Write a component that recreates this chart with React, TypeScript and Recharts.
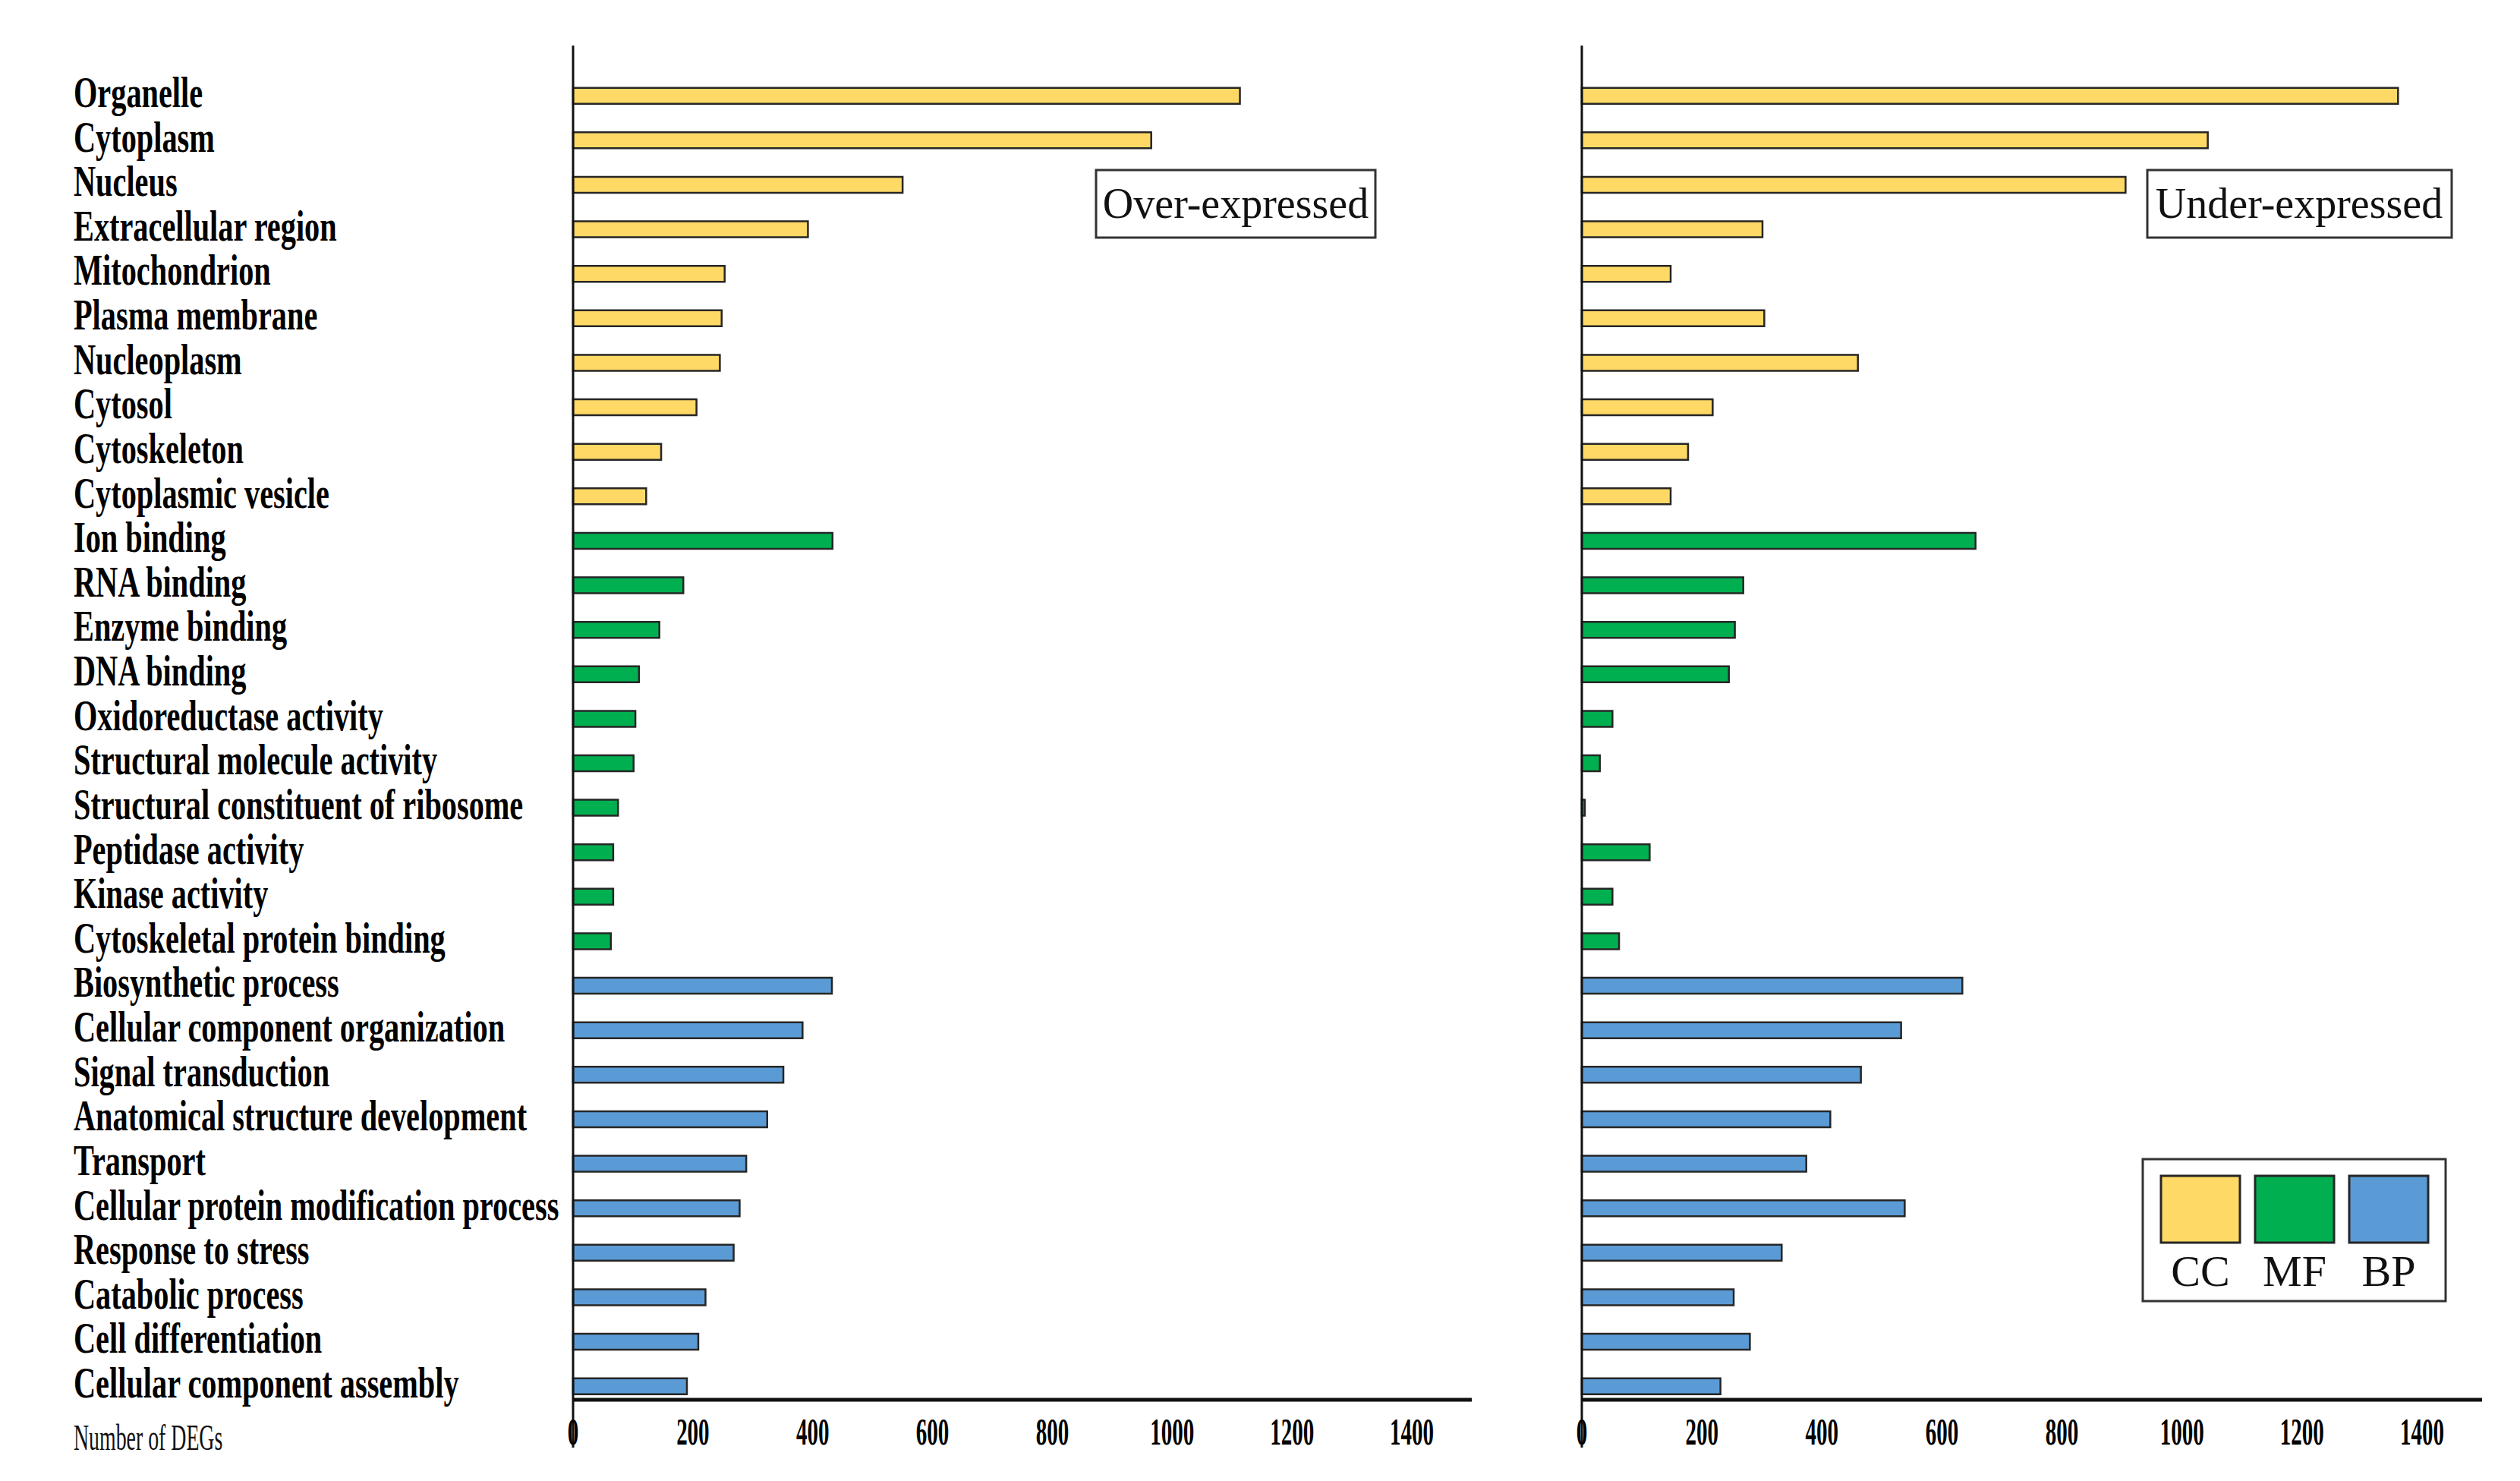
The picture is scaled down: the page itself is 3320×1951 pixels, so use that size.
import React from 'react';
import { BarChart, Bar, XAxis, YAxis, Cell } from 'recharts';

const categories = [
  'Organelle', 'Cytoplasm', 'Nucleus', 'Extracellular region', 'Mitochondrion',
  'Plasma membrane', 'Nucleoplasm', 'Cytosol', 'Cytoskeleton', 'Cytoplasmic vesicle',
  'Ion binding', 'RNA binding', 'Enzyme binding', 'DNA binding', 'Oxidoreductase activity',
  'Structural molecule activity', 'Structural constituent of ribosome', 'Peptidase activity',
  'Kinase activity', 'Cytoskeletal protein binding',
  'Biosynthetic process', 'Cellular component organization', 'Signal transduction',
  'Anatomical structure development', 'Transport', 'Cellular protein modification process',
  'Response to stress', 'Catabolic process', 'Cell differentiation', 'Cellular component assembly',
];

const groups = [
  'CC', 'CC', 'CC', 'CC', 'CC', 'CC', 'CC', 'CC', 'CC', 'CC',
  'MF', 'MF', 'MF', 'MF', 'MF', 'MF', 'MF', 'MF', 'MF', 'MF',
  'BP', 'BP', 'BP', 'BP', 'BP', 'BP', 'BP', 'BP', 'BP', 'BP',
];

const overExpressed = [
  1113, 965, 550, 392, 253, 248, 245, 206, 147, 122,
  433, 184, 144, 110, 104, 101, 75, 67, 67, 63,
  432, 383, 351, 324, 289, 278, 268, 221, 209, 190,
];

const underExpressed = [
  1360, 1043, 906, 301, 148, 304, 460, 218, 177, 148,
  656, 269, 255, 245, 51, 30, 5, 113, 51, 62,
  634, 532, 465, 414, 374, 538, 333, 253, 280, 231,
];

const xTicks = [0, 200, 400, 600, 800, 1000, 1200, 1400];
const legendItems = ['CC', 'MF', 'BP'];
const groupColors: Record<string, string> = { CC: '#FFD966', MF: '#00B050', BP: '#5B9BD5' };

const overData = categories.map((name, i) => ({ name, value: overExpressed[i], group: groups[i] }));
const underData = categories.map((name, i) => ({ name, value: underExpressed[i], group: groups[i] }));

const SERIF = "'Liberation Serif', 'Times New Roman', Times, serif";
const LABEL_SPAN = 658;
const Y_PADDING = { top: 36.7, bottom: -11.3 };

const CategoryTick = (props: any) => {
  const { x, y, payload } = props;
  return (
    <text
      x={0}
      y={0}
      transform={`translate(${x - LABEL_SPAN},${y + 15}) scale(0.72,1)`}
      fontFamily={SERIF}
      fontWeight="bold"
      fontSize={56}
      fill="#000"
      textAnchor="start"
    >
      {payload.value}
    </text>
  );
};

const ValueTick = (props: any) => {
  const { x, y, payload } = props;
  return (
    <g>
      {payload.value === 0 && (
        <line x1={x} x2={x} y1={y} y2={y + 63} stroke="#111" strokeWidth={3} />
      )}
      <text
        x={0}
        y={0}
        transform={`translate(${x},${y + 59}) scale(0.58,1)`}
        textAnchor="middle"
        fontFamily={SERIF}
        fontWeight="bold"
        fontSize={50}
        fill="#000"
      >
        {payload.value}
      </text>
    </g>
  );
};

const barStyle = { stroke: '#262626', strokeWidth: 2.5 };

function Panel({ data, showLabels, left, width, margin, yWidth }: any) {
  return (
    <div style={{ position: 'absolute', left, top: 0 }}>
      <BarChart width={width} height={1951} data={data} layout="vertical" margin={margin}>
        <XAxis
          type="number"
          domain={[0, 1500]}
          ticks={xTicks}
          interval={0}
          tickSize={0}
          tickMargin={0}
          tickLine={false}
          height={100}
          axisLine={{ stroke: '#111', strokeWidth: 5 }}
          tick={<ValueTick />}
        />
        <YAxis
          type="category"
          dataKey="name"
          width={yWidth}
          interval={0}
          tickSize={0}
          tickMargin={0}
          tickLine={false}
          padding={Y_PADDING}
          axisLine={{ stroke: '#111', strokeWidth: 3 }}
          tick={showLabels ? <CategoryTick /> : false}
        />
        <Bar dataKey="value" barSize={21} {...barStyle} isAnimationActive={false}>
          {data.map((d: any, i: number) => (
            <Cell key={i} fill={groupColors[d.group]} />
          ))}
        </Bar>
      </BarChart>
    </div>
  );
}

export default function App() {
  return (
    <div style={{ position: 'absolute', left: 0, top: 0, width: 3320, height: 1951, background: '#fff', overflow: 'hidden' }}>
      <Panel
        data={overData}
        showLabels
        left={0}
        width={1990}
        yWidth={LABEL_SPAN}
        margin={{ top: 60, right: 51, bottom: 7, left: 97 }}
      />
      <Panel
        data={underData}
        showLabels={false}
        left={2000}
        width={1320}
        yWidth={84}
        margin={{ top: 60, right: 50, bottom: 7, left: 0 }}
      />
      <svg width={3320} height={1951} style={{ position: 'absolute', left: 0, top: 0, pointerEvents: 'none' }}>
        <text x={0} y={0} transform="translate(97,1910) scale(0.58,1)" fontFamily={SERIF} fontSize={48} fill="#111">
          Number of DEGs
        </text>
        <rect x={1444} y={224} width={368} height={89} fill="#fff" stroke="#333" strokeWidth={3} />
        <text x={1628} y={287} textAnchor="middle" fontFamily={SERIF} fontSize={56} fill="#111">Over-expressed</text>
        <rect x={2829} y={224} width={401} height={89} fill="#fff" stroke="#333" strokeWidth={3} />
        <text x={3029} y={287} textAnchor="middle" fontFamily={SERIF} fontSize={56} fill="#111">Under-expressed</text>
        <rect x={2823} y={1527} width={399} height={187} fill="#fff" stroke="#333" strokeWidth={3} />
        {legendItems.map((g, i) => (
          <g key={g}>
            <rect x={2847 + i * 124} y={1549} width={104} height={88} fill={groupColors[g]} stroke="#262626" strokeWidth={3} />
            <text x={2899 + i * 124} y={1694} textAnchor="middle" fontFamily={SERIF} fontSize={58} fill="#111">{g}</text>
          </g>
        ))}
      </svg>
    </div>
  );
}
